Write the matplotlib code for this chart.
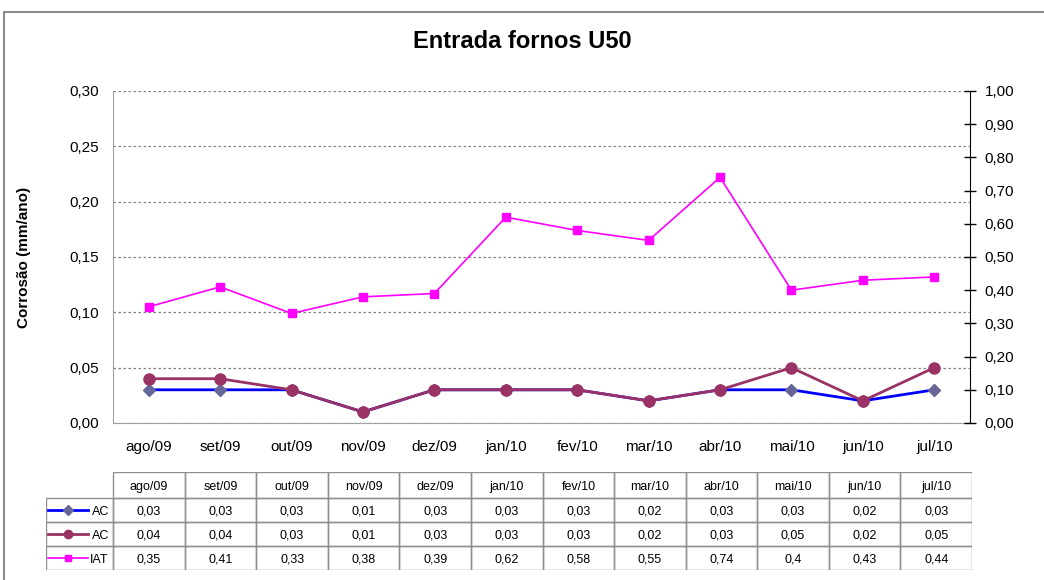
import matplotlib
matplotlib.use("Agg")
import matplotlib.pyplot as plt
from matplotlib.patches import Rectangle
from matplotlib.lines import Line2D
import numpy as np

plt.rcParams['font.family'] = ['Liberation Sans', 'DejaVu Sans']

# ── Data ──────────────────────────────────────────────────────────────────────
months = ["ago/09", "set/09", "out/09", "nov/09", "dez/09", "jan/10",
          "fev/10", "mar/10", "abr/10", "mai/10", "jun/10", "jul/10"]
ac1 = [0.03, 0.03, 0.03, 0.01, 0.03, 0.03, 0.03, 0.02, 0.03, 0.03, 0.02, 0.03]
ac2 = [0.04, 0.04, 0.03, 0.01, 0.03, 0.03, 0.03, 0.02, 0.03, 0.05, 0.02, 0.05]
iat = [0.35, 0.41, 0.33, 0.38, 0.39, 0.62, 0.58, 0.55, 0.74, 0.4, 0.43, 0.44]
series_names = ["AC", "AC", "IAT"]

def fmt(v):
    s = f"{v:.2f}"
    if v == 0.4:
        s = "0.4"
    return s.replace(".", ",")

W, H = 1044, 580
fig = plt.figure(figsize=(W / 100, H / 100), dpi=100)

def px(x0, y0, x1, y1):
    return [x0 / W, 1 - y1 / H, (x1 - x0) / W, (y1 - y0) / H]

# chart frame
fig.patches.append(Rectangle((4 / W, -0.1), 1.2, 1 - 12 / H + 0.1, transform=fig.transFigure,
                             fill=False, edgecolor="#8c8c8c", linewidth=1.5))

fig.text(0.5, 1 - 42 / H, "Entrada fornos U50", ha="center", va="center",
         fontsize=17, fontweight="bold")

# ── Main chart ────────────────────────────────────────────────────────────────
ax = fig.add_axes(px(113, 91, 970, 423))
x = np.arange(len(months))
ax.plot(x, ac1, color="#0000ff", linewidth=2, marker="D", markersize=6,
        markerfacecolor="#666699", markeredgecolor="#666699", zorder=3)
ax.plot(x, ac2, color="#993366", linewidth=2, marker="o", markersize=8,
        markerfacecolor="#993366", markeredgecolor="#993366", zorder=4)
ax.set_xlim(-0.5, len(months) - 0.5)
ax.set_ylim(0, 0.30)
ax.set_yticks(np.arange(0, 0.301, 0.05))
ax.set_yticklabels([f"{v:.2f}".replace(".", ",") for v in np.arange(0, 0.301, 0.05)], fontsize=11)
ax.set_xticks(x)
ax.set_xticklabels(months, fontsize=11)
ax.tick_params(axis="x", length=0, pad=12)
ax.tick_params(axis="y", length=0, pad=10)
ax.grid(axis="y", linestyle=(0, (2, 2)), color="#808080", linewidth=0.9)
ax.set_axisbelow(True)
for s in ["top", "right"]:
    ax.spines[s].set_visible(False)
for s in ["left", "bottom"]:
    ax.spines[s].set_color("#a0a0a0")
ax.set_ylabel("Corrosão (mm/ano)", fontsize=11, fontweight="bold", labelpad=28)

ax2 = ax.twinx()
ax2.plot(x, iat, color="#ff00ff", linewidth=1.2, marker="s", markersize=6,
         markerfacecolor="#ff00ff", markeredgecolor="#ff00ff", zorder=3)
ax2.set_ylim(0, 1.0)
rt = np.arange(0, 1.001, 0.1)
ax2.set_yticks(rt)
ax2.set_yticklabels([f"{v:.2f}".replace(".", ",") for v in rt], fontsize=11)
ax2.tick_params(axis="y", direction="inout", length=9, width=1, color="black", pad=6)
for s in ["top", "left", "bottom"]:
    ax2.spines[s].set_visible(False)
ax2.spines["right"].set_color("black")
ax2.set_ylabel("Acidez (mgKOH/g)", fontsize=11, fontweight="bold", labelpad=22)

# ── Data table ────────────────────────────────────────────────────────────────
n = len(months)
lab_w = 67 / 71.4
tax = fig.add_axes(px(46, 472, 972, 570))
tax.set_xlim(-0.5 - lab_w, n - 0.5)
tax.set_ylim(4, 0)
tax.axis("off")
grid_c = "#909090"
rows = [ac1, ac2, iat]
# header
for i, m in enumerate(months):
    tax.add_patch(Rectangle((i - 0.5, 0), 1, 1.08, fill=False, edgecolor=grid_c, lw=1))
    tax.text(i, 0.54, m, ha="center", va="center_baseline", fontsize=9)
hh = 1.08
rh = (4 - hh) / 3
for r, vals in enumerate(rows):
    y0 = hh + r * rh
    tax.add_patch(Rectangle((-0.5 - lab_w, y0), lab_w, rh, fill=False, edgecolor=grid_c, lw=1))
    for i, v in enumerate(vals):
        tax.add_patch(Rectangle((i - 0.5, y0), 1, rh, fill=False, edgecolor=grid_c, lw=1))
        tax.text(i, y0 + rh / 2, fmt(v), ha="center", va="center_baseline", fontsize=9)
    tax.text(-0.5 - 0.06, y0 + rh / 2, series_names[r], ha="right", va="center_baseline", fontsize=9)

styles = [("#0000ff", "D", "#666699", 5, 2), ("#993366", "o", "#993366", 6, 2),
          ("#ff00ff", "s", "#ff00ff", 5, 1.2)]
for r, (c, mk, mc, ms, lw) in enumerate(styles):
    yc = hh + r * rh + rh / 2
    x0 = -0.5 - lab_w + 0.03
    x1 = -0.5 - 0.35
    tax.add_line(Line2D([x0, x1], [yc, yc], color=c, lw=lw))
    tax.add_line(Line2D([(x0 + x1) / 2], [yc], marker=mk, color=mc, markersize=ms))

fig.savefig("out.png", dpi=100)
